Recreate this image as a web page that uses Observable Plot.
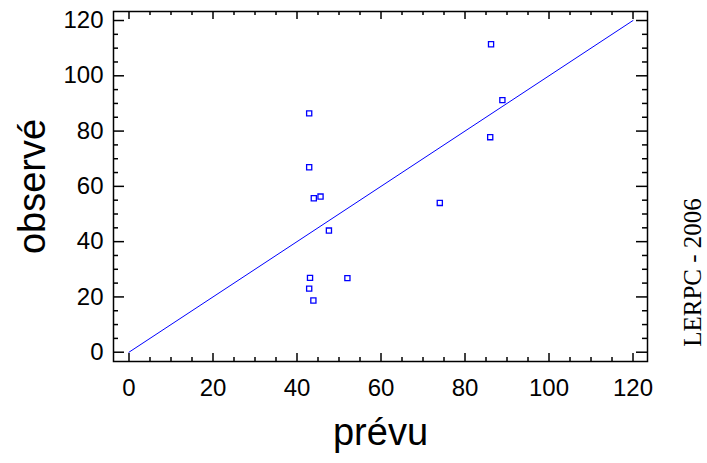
<!DOCTYPE html>
<html>
<head>
<meta charset="utf-8">
<script src="https://cdn.jsdelivr.net/npm/d3@7"></script>
<script src="https://cdn.jsdelivr.net/npm/@observablehq/plot@0.6"></script>
<style>
  html, body { margin: 0; padding: 0; background: #ffffff; }
  #chart svg { display: block; }
</style>
</head>
<body>
<div id="chart"></div>
<script>
// Data
const prevu   = [86.2, 88.9, 42.9, 86.0, 42.9, 44.0, 45.6, 74.0, 47.6, 43.1, 52.0, 42.9, 43.9];
const observe = [111.4, 91.2, 86.4, 77.8, 66.9, 55.7, 56.3, 54.0, 44.0, 26.9, 26.8, 23.0, 18.7];
const fitX = [0, 120];
const fitY = [0, 120];
const majorTicks = [0, 20, 40, 60, 80, 100, 120];
const minorTicks = [5, 10, 15, 25, 30, 35, 45, 50, 55, 65, 70, 75, 85, 90, 95, 105, 110, 115];
const xLabel = "prévu";
const yLabel = "observé";
const credit = "LERPC - 2006";

const points = prevu.map((x, i) => ({x, y: observe[i]}));
const fit = fitX.map((x, i) => ({x, y: fitY[i]}));

const W = 707, H = 463;
const mTop = 11, mBottom = 102, mLeft = 113, mRight = 60;
const frameW = W - mLeft - mRight;
const frameH = H - mTop - mBottom;
const blue = "#0000ff";

const chart = Plot.plot({
  width: W,
  height: H,
  marginTop: mTop,
  marginBottom: mBottom,
  marginLeft: mLeft,
  marginRight: mRight,
  style: {fontFamily: "'Liberation Sans', Arial, sans-serif", fontSize: "24px", background: "#ffffff", color: "#000"},
  x: {domain: [-3.69, 123.45], ticks: majorTicks, tickSize: 0, tickPadding: 17, label: null},
  y: {domain: [-3.36, 123.26], ticks: majorTicks, tickSize: 0, tickPadding: 10, label: null},
  marks: [
    // inward ticks, bottom & top
    Plot.tickX(majorTicks, {x: d => d, insetTop: frameH - 8, stroke: "#000", strokeWidth: 1.5}),
    Plot.tickX(minorTicks, {x: d => d, insetTop: frameH - 4, stroke: "#000", strokeWidth: 1.5}),
    Plot.tickX(majorTicks, {x: d => d, insetBottom: frameH - 8, stroke: "#000", strokeWidth: 1.5}),
    Plot.tickX(minorTicks, {x: d => d, insetBottom: frameH - 4, stroke: "#000", strokeWidth: 1.5}),
    // inward ticks, left & right
    Plot.tickY(majorTicks, {y: d => d, insetRight: frameW - 11, stroke: "#000", strokeWidth: 1.5}),
    Plot.tickY(minorTicks, {y: d => d, insetRight: frameW - 5, stroke: "#000", strokeWidth: 1.5}),
    Plot.tickY(majorTicks, {y: d => d, insetLeft: frameW - 11, stroke: "#000", strokeWidth: 1.5}),
    Plot.tickY(minorTicks, {y: d => d, insetLeft: frameW - 5, stroke: "#000", strokeWidth: 1.5}),
    Plot.frame({stroke: "#000", strokeWidth: 1.5}),
    Plot.line(fit, {x: "x", y: "y", stroke: blue, strokeWidth: 1}),
    Plot.dot(points, {x: "x", y: "y", symbol: "square", r: 2.9, stroke: blue, strokeWidth: 1.3, fill: "none"}),
    Plot.text([xLabel], {frameAnchor: "bottom", text: d => d, dy: 83, fontSize: 38, textAnchor: "middle"}),
    Plot.text([yLabel], {frameAnchor: "left", text: d => d, dx: -81, dy: 0, rotate: -90, fontSize: 38, textAnchor: "middle"}),
    Plot.text([credit], {frameAnchor: "right", text: d => d, dx: 45, dy: 86, rotate: -90, fontSize: 25, textAnchor: "middle",
      fontFamily: "'Liberation Serif', 'Times New Roman', serif"})
  ]
});
document.getElementById("chart").appendChild(chart);
</script>
</body>
</html>
